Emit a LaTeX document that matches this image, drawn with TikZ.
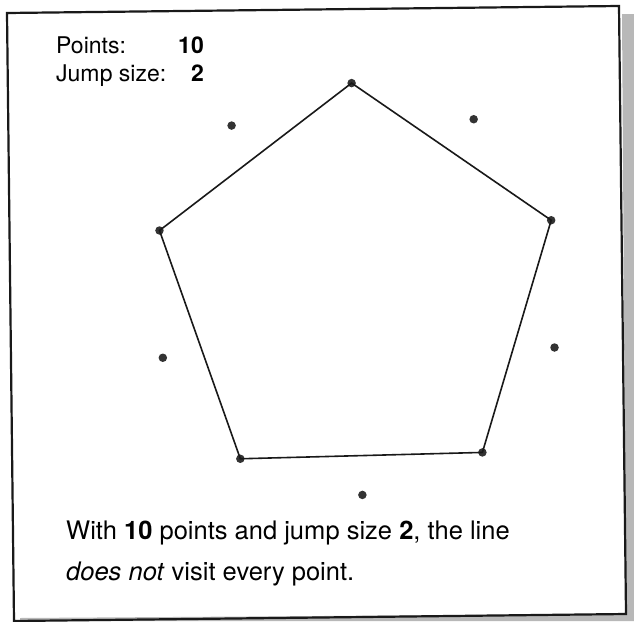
\documentclass[tikz,border=0pt]{standalone}
\usepackage{fontspec}
\setmainfont{TeX Gyre Heros}
\begin{document}
\begin{tikzpicture}[x=1pt,y=-1pt,
  dotnode/.style={circle,fill=black!80,inner sep=0pt,minimum size=8.5pt},
  edge/.style={line width=1.6pt,black!90},
  frame/.style={line width=2.2pt,black!90,line join=miter},
  shadowfill/.style={fill=black!28},
  toptext/.style={font=\fontsize{23}{27}\selectfont,inner sep=0pt},
  bottext/.style={font=\fontsize{25.5}{30}\selectfont,inner sep=0pt}]
\useasboundingbox (0,0) rectangle (634,621);
% shadow
\fill[shadowfill] (622,14) -- (634,14) -- (634,621) -- (20,621) -- (20,618) -- (626,614) -- cycle;
% frame
\draw[frame] (7,13) -- (619,6) -- (626,614) -- (14,621) -- cycle;
% points
\foreach \k in {0,...,9}
  \node[dotnode] (p\k) at ([shift={({-91.5+36*\k}:206)}]357,289) {};
% pentagon
\draw[edge] (p0.center) -- (p2.center) -- (p4.center) -- (p6.center) -- (p8.center) -- cycle;
% top labels
\node[toptext,anchor=base west] (lp) at (56,53) {Points:};
\node[toptext,anchor=base east] (np) at (204,53) {\textbf{10}};
\node[toptext,anchor=base west] (lj) at (56,81) {Jump size:};
\node[toptext,anchor=base east] (nj) at (204,81) {\textbf{2}};
% bottom text
\node[bottext,anchor=base west] (t1) at (66,539) {With \textbf{10} points and jump size \textbf{2}, the line};
\node[bottext,anchor=base west] (t2) at (66,580) {\textit{does not} visit every point.};
\end{tikzpicture}
\end{document}
